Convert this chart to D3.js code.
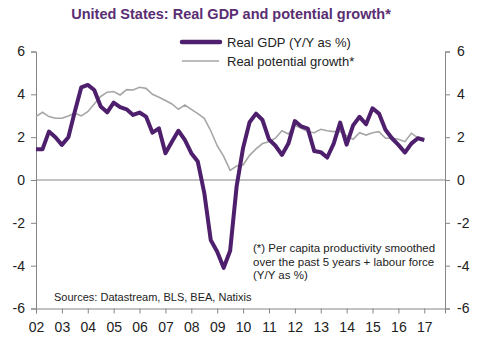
<!DOCTYPE html>
<html>
<head>
<meta charset="utf-8">
<script src="https://cdn.jsdelivr.net/npm/d3@7"></script>
<style>
  body { margin: 0; background: #fff; }
  svg { font-family: "Liberation Sans", Arial, sans-serif; }
</style>
</head>
<body>
<svg id="chart" width="484" height="345"></svg>
<script>
// quarterly data, 2002Q1 .. 2017Q1
const startYear = 2002;
const realGdp = [
  1.43, 1.43, 2.26, 2.0,
  1.64, 2.0, 3.2, 4.33,
  4.44, 4.2, 3.43, 3.16,
  3.61, 3.4, 3.3, 3.04,
  3.15, 2.96, 2.21, 2.41,
  1.25, 1.79, 2.3, 1.87,
  1.25, 0.86, -0.6, -2.8,
  -3.35, -4.1, -3.3, -0.3,
  1.5, 2.7, 3.1, 2.8,
  1.9, 1.6, 1.17, 1.7,
  2.75, 2.5, 2.4, 1.35,
  1.3, 1.05, 1.7, 2.68,
  1.65, 2.55, 2.95, 2.6,
  3.35, 3.1, 2.35, 1.95,
  1.64, 1.28, 1.7, 1.95,
  1.87
];
const potentialGrowth = [
  2.96, 3.16, 2.96, 2.88,
  2.88, 2.99, 3.12, 2.99,
  3.19, 3.55, 3.9, 4.1,
  4.13, 3.97, 4.22, 4.2,
  4.33, 4.28, 4.0, 3.86,
  3.71, 3.55, 3.3, 3.5,
  3.3, 3.1, 2.88, 2.3,
  1.6, 1.1, 0.45, 0.65,
  0.7, 1.15, 1.45, 1.7,
  1.79, 1.95, 2.3, 2.15,
  2.55, 2.41, 2.25, 2.21,
  2.37, 2.3, 2.26, 2.26,
  2.06, 1.9, 2.21, 2.1,
  2.21, 2.26, 1.95, 1.95,
  1.9, 1.79, 2.18, 1.98,
  1.87
];
const yearTicks = d3.range(2002, 2018);
const yTicks = [-6, -4, -2, 0, 2, 4, 6];
const legendLabels = ["Real GDP (Y/Y as %)", "Real potential growth*"];
const noteLines = ["(*) Per capita productivity smoothed", "over the past 5 years + labour force", "(Y/Y as %)"];

const purple = "#4d1f6c";
const grey = "#a6a6a6";
const axisCol = "#868686";

const svg = d3.select("#chart");

const x = d3.scaleLinear().domain([2002, 2017.8]).range([36, 445]);
const y = d3.scaleLinear().domain([-6, 6]).range([308.5, 51.5]);

// title
svg.append("text").attr("x", 231).attr("y", 19).attr("text-anchor", "middle")
  .style("font-size", "14.5px").style("font-weight", "bold").style("fill", "#5a2e72")
  .text("United States: Real GDP and potential growth*");

// zero line
svg.append("line").attr("x1", x(2002)).attr("x2", x(2017.8))
  .attr("y1", y(0)).attr("y2", y(0)).attr("stroke", axisCol).attr("stroke-width", 1);

// left axis
const yLeft = svg.append("g").attr("transform", `translate(${x(2002)},0)`)
  .call(d3.axisLeft(y).tickValues(yTicks).tickSize(5).tickPadding(6).tickFormat(d => String(d)));
// right axis
const yRight = svg.append("g").attr("transform", `translate(${x(2017.8)},0)`)
  .call(d3.axisRight(y).tickValues(yTicks).tickSize(5).tickPadding(7).tickFormat(d => String(d)));
// bottom axis
const xAxis = svg.append("g").attr("transform", `translate(0,${y(-6)})`)
  .call(d3.axisBottom(x).tickValues(yearTicks).tickSize(5).tickPadding(6)
    .tickFormat(d => String(d % 100).padStart(2, "0")));

[yLeft, yRight, xAxis].forEach(g => {
  g.select(".domain").attr("stroke", axisCol);
  g.selectAll(".tick line").attr("stroke", axisCol);
  g.selectAll("text").style("font-size", "14px").style("fill", "#222")
    .style("font-family", "'Liberation Sans', Arial, sans-serif");
});
xAxis.selectAll("text").attr("dy", "0.9em");

const qx = (d, i) => x(startYear + i * 0.25);
const line = d3.line().x(qx).y(d => y(d));

svg.append("path").datum(potentialGrowth).attr("d", line)
  .attr("fill", "none").attr("stroke", grey).attr("stroke-width", 1.6);
svg.append("path").datum(realGdp).attr("d", line)
  .attr("fill", "none").attr("stroke", purple).attr("stroke-width", 4).attr("stroke-linejoin", "round");

// legend
const leg = svg.append("g");
leg.append("line").attr("x1", 182).attr("x2", 220).attr("y1", 42).attr("y2", 42)
  .attr("stroke", purple).attr("stroke-width", 4.5).attr("stroke-linecap", "round");
leg.append("line").attr("x1", 182).attr("x2", 219).attr("y1", 61).attr("y2", 61)
  .attr("stroke", grey).attr("stroke-width", 1.6);
legendLabels.forEach((t, i) => {
  leg.append("text").attr("x", 227).attr("y", 47 + i * 19)
    .style("font-size", "13px").style("fill", "#222").text(t);
});

// footnote
noteLines.forEach((t, i) => {
  svg.append("text").attr("x", 253).attr("y", 252 + i * 13.5)
    .style("font-size", "11.5px").style("fill", "#222").text(t);
});

svg.append("text").attr("x", 54).attr("y", 301)
  .style("font-size", "11px").style("fill", "#222").text("Sources: Datastream, BLS, BEA, Natixis");
</script>
</body>
</html>
